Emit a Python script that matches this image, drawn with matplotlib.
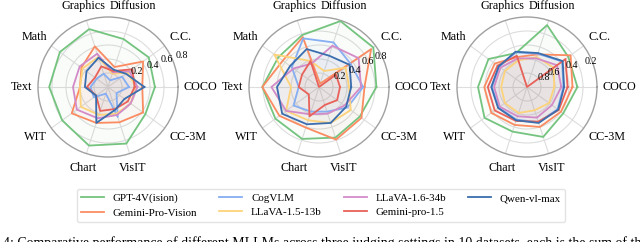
import numpy as np
import matplotlib.pyplot as plt

plt.rcParams['font.family'] = ['Liberation Serif', 'DejaVu Serif']

categories = ['COCO', 'C.C.', 'Diffusion', 'Graphics', 'Math',
              'Text', 'WIT', 'Chart', 'VisIT', 'CC-3M']
models = ['GPT-4V(ision)', 'Gemini-Pro-Vision', 'CogVLM', 'LLaVA-1.5-13b',
          'LLaVA-1.6-34b', 'Gemini-pro-1.5', 'Qwen-vl-max']
colors = ['#74c47f', '#fb8c62', '#86aef2', '#fcd37a', '#d38bc8', '#e8625a', '#3a6eae']

# order of every list: COCO, C.C., Diffusion, Graphics, Math, Text, WIT, Chart, VisIT, CC-3M
# setting 1
score_1 = {
    'GPT-4V(ision)':     [0.67, 0.72, 0.72, 0.87, 0.85, 0.84, 0.81, 0.88, 0.85, 0.66],
    'Gemini-Pro-Vision': [0.49, 0.62, 0.30, 0.61, 0.47, 0.40, 0.64, 0.54, 0.53, 0.62],
    'CogVLM':            [0.30, 0.25, 0.10, 0.20, 0.20, 0.25, 0.25, 0.10, 0.45, 0.15],
    'LLaVA-1.5-13b':     [0.40, 0.35, 0.20, 0.45, 0.45, 0.40, 0.48, 0.42, 0.40, 0.40],
    'LLaVA-1.6-34b':     [0.42, 0.38, 0.22, 0.50, 0.50, 0.50, 0.55, 0.47, 0.42, 0.40],
    'Gemini-pro-1.5':    [0.38, 0.43, 0.24, 0.31, 0.23, 0.30, 0.21, 0.36, 0.33, 0.35],
    'Qwen-vl-max':       [0.52, 0.32, 0.26, 0.44, 0.38, 0.33, 0.21, 0.54, 0.34, 0.29],
}
# setting 2
score_2 = {
    'GPT-4V(ision)':     [0.82, 0.96, 0.99, 0.78, 0.72, 0.81, 0.77, 0.78, 0.76, 0.72],
    'Gemini-Pro-Vision': [0.65, 0.92, 0.05, 0.75, 0.64, 0.81, 0.70, 0.61, 0.79, 0.75],
    'CogVLM':            [0.63, 0.56, 0.67, 0.73, 0.48, 0.29, 0.45, 0.37, 0.37, 0.50],
    'LLaVA-1.5-13b':     [0.43, 0.47, 0.24, 0.39, 0.79, 0.40, 0.58, 0.50, 0.54, 0.56],
    'LLaVA-1.6-34b':     [0.60, 0.70, 0.62, 0.35, 0.45, 0.68, 0.58, 0.41, 0.40, 0.45],
    'Gemini-pro-1.5':    [0.30, 0.30, 0.00, 0.39, 0.30, 0.29, 0.18, 0.44, 0.27, 0.32],
    'Qwen-vl-max':       [0.46, 0.54, 0.47, 0.57, 0.51, 0.60, 0.65, 0.56, 0.54, 0.48],
}
# setting 3 (reversed radial axis)
score_3 = {
    'GPT-4V(ision)':     [0.28, 0.27, 0.07, 0.49, 0.32, 0.30, 0.25, 0.33, 0.25, 0.36],
    'Gemini-Pro-Vision': [0.35, 0.23, 0.51, 0.55, 0.43, 0.39, 0.37, 0.43, 0.40, 0.40],
    'CogVLM':            [0.48, 0.38, 0.50, 0.48, 0.51, 0.50, 0.50, 0.51, 0.47, 0.46],
    'LLaVA-1.5-13b':     [0.61, 0.53, 0.55, 0.60, 0.61, 0.63, 0.61, 0.61, 0.65, 0.61],
    'LLaVA-1.6-34b':     [0.51, 0.47, 0.57, 0.57, 0.53, 0.53, 0.52, 0.56, 0.54, 0.56],
    'Gemini-pro-1.5':    [0.42, 0.32, 1.00, 0.53, 0.48, 0.44, 0.43, 0.49, 0.48, 0.44],
    'Qwen-vl-max':       [0.47, 0.37, 0.49, 0.47, 0.50, 0.49, 0.49, 0.50, 0.46, 0.45],
}
rticks = [0.2, 0.4, 0.6, 0.8]

angles = np.linspace(0, 2 * np.pi, len(categories), endpoint=False)
closed = np.concatenate([angles, angles[:1]])

fig = plt.figure(figsize=(6.4, 2.42), dpi=100)
W, H = 640, 242
centers = [108, 319, 527]
R = 70
# where the radial numbers sit: (fraction of radius, angle in degrees), inner to outer
label_spots = [
    [(0.46, 28), (0.71, 26), (0.93, 25), (1.14, 23)],
    [(0.33, 28), (0.57, 25), (0.79, 27), (0.99, 26)],
    [(0.27, 29), (0.44, 29), (0.71, 26), (0.98, 22)],
]


def put_cat_labels(ax):
    for a, name in zip(angles, categories):
        c, s = np.cos(a), np.sin(a)
        if abs(s) > 0.9:
            r = 1.13
        else:
            r = 1.08
        ha = 'left' if c > 0.5 else ('right' if c < -0.5 else 'center')
        if abs(s) < 0.3:
            va = 'center'
        else:
            va = 'bottom' if s > 0 else 'top'
        ax.text(0.5 + 0.5 * r * c, 0.5 + 0.5 * r * s, name, transform=ax.transAxes,
                fontsize=8.7, ha=ha, va=va, clip_on=False)


axes = []
for k, (scores, cx) in enumerate(zip([score_1, score_2, score_3], centers)):
    ax = fig.add_axes([(cx - R) / W, (H - 87 - R) / H, 2 * R / W, 2 * R / H], polar=True)
    axes.append(ax)
    for m, c in zip(models, colors):
        v = scores[m] + scores[m][:1]
        ax.plot(closed, v, color=c, lw=1.3, zorder=3)
        ax.fill(closed, v, color=c, alpha=0.04, zorder=2)
    if k == 2:
        ax.set_ylim(1.0, 0.0)
        shown = rticks[::-1]
    else:
        ax.set_ylim(0.0, 1.0)
        shown = rticks
    ax.set_yticks(rticks)
    ax.set_yticklabels([])
    ax.set_xticks(angles)
    ax.set_xticklabels([])
    ax.grid(color='#dddddd', lw=0.8)
    ax.spines['polar'].set_color('#a0a0a0')
    ax.spines['polar'].set_linewidth(1.0)
    put_cat_labels(ax)
    for t, (f, a) in zip(shown, label_spots[k]):
        x = 0.5 + 0.5 * f * np.cos(np.radians(a))
        y = 0.5 + 0.5 * f * np.sin(np.radians(a))
        ax.text(x, y, f'{t:.1f}', transform=ax.transAxes, fontsize=7.2,
                ha='center', va='center', zorder=5, clip_on=False)

handles = axes[0].get_lines()
fig.legend(handles, models, loc='center', ncol=4,
           bbox_to_anchor=(321 / W, 1 - 205.5 / H), fontsize=7.9,
           frameon=True, edgecolor='#dddddd', fancybox=True,
           handlelength=2.1, handletextpad=0.8, columnspacing=2.0,
           labelspacing=0.4, borderpad=0.4)

fig.text(0.004, -5 / H, '4: Comparative performance of different MLLMs across three judging settings in 10 datasets, each is the sum of the',
         fontsize=10, va='baseline', ha='left')

fig.savefig('out.png', dpi=100)
